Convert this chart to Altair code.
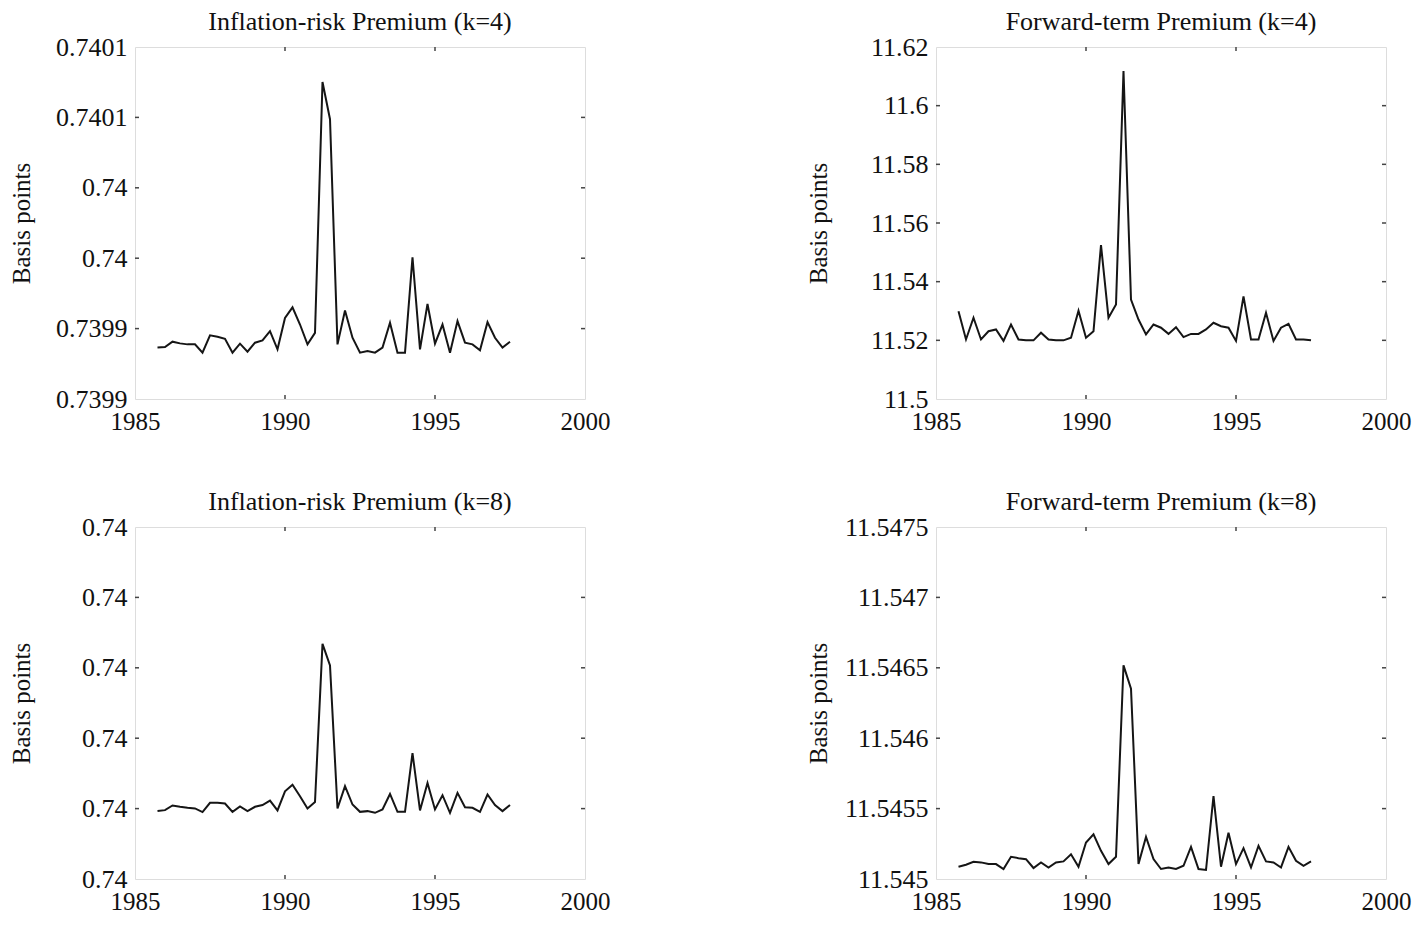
import altair as alt
import pandas as pd

FONT = "Liberation Serif"

years = [1985.75, 1986.0, 1986.25, 1986.5, 1986.75, 1987.0, 1987.25, 1987.5,
         1987.75, 1988.0, 1988.25, 1988.5, 1988.75, 1989.0, 1989.25, 1989.5,
         1989.75, 1990.0, 1990.25, 1990.5, 1990.75, 1991.0, 1991.25, 1991.5,
         1991.75, 1992.0, 1992.25, 1992.5, 1992.75, 1993.0, 1993.25, 1993.5,
         1993.75, 1994.0, 1994.25, 1994.5, 1994.75, 1995.0, 1995.25, 1995.5,
         1995.75, 1996.0, 1996.25, 1996.5, 1996.75, 1997.0, 1997.25, 1997.5]

irp_k4 = [0.7399365, 0.7399369, 0.7399407, 0.7399395, 0.7399388, 0.7399388,
          0.7399329, 0.7399452, 0.7399442, 0.7399428, 0.7399329, 0.7399393,
          0.7399336, 0.7399400, 0.7399416, 0.7399482, 0.7399353, 0.7399576,
          0.7399651, 0.7399529, 0.7399388, 0.7399470, 0.7401251, 0.7400987,
          0.7399388, 0.7399628, 0.7399435, 0.7399329, 0.7399341, 0.7399329,
          0.7399365, 0.7399541, 0.7399329, 0.7399329, 0.7400007, 0.7399353,
          0.7399675, 0.7399393, 0.7399529, 0.7399329, 0.7399553, 0.7399400,
          0.7399388, 0.7399346, 0.7399546, 0.7399435, 0.7399365, 0.7399407]

irp_k8 = [0.73998483, 0.73998489, 0.73998522, 0.73998513, 0.73998506, 0.73998501,
          0.73998475, 0.73998541, 0.73998541, 0.73998536, 0.73998477, 0.73998515,
          0.73998482, 0.73998513, 0.73998525, 0.73998557, 0.73998487, 0.73998623,
          0.73998670, 0.73998588, 0.73998501, 0.73998546, 0.73999670, 0.73999517,
          0.73998501, 0.73998659, 0.73998529, 0.73998477, 0.73998482, 0.73998470,
          0.73998494, 0.73998604, 0.73998477, 0.73998477, 0.73998894, 0.73998487,
          0.73998682, 0.73998494, 0.73998595, 0.73998470, 0.73998612, 0.73998510,
          0.73998506, 0.73998477, 0.73998600, 0.73998525, 0.73998482, 0.73998525]

ftp_k4 = [11.5299, 11.5203, 11.5277, 11.5203, 11.5231, 11.5237, 11.5198, 11.5254,
          11.5203, 11.5200, 11.5200, 11.5226, 11.5203, 11.5200, 11.5200, 11.5209,
          11.5301, 11.5209, 11.5231, 11.5525, 11.5277, 11.5322, 11.6118, 11.5339,
          11.5271, 11.5220, 11.5254, 11.5243, 11.5222, 11.5245, 11.5211, 11.5222,
          11.5222, 11.5237, 11.5260, 11.5248, 11.5243, 11.5198, 11.5350, 11.5203,
          11.5203, 11.5294, 11.5198, 11.5243, 11.5256, 11.5203, 11.5203, 11.5200]

ftp_k8 = [11.545087, 11.545101, 11.545122, 11.545118, 11.545106, 11.545106,
          11.545071, 11.545158, 11.545148, 11.545141, 11.545078, 11.545118,
          11.545082, 11.545118, 11.545125, 11.545176, 11.545087, 11.545259,
          11.545318, 11.545200, 11.545106, 11.545158, 11.546517, 11.546352,
          11.545106, 11.545299, 11.545141, 11.545071, 11.545082, 11.545071,
          11.545094, 11.545228, 11.545071, 11.545064, 11.545588, 11.545087,
          11.545329, 11.545106, 11.545219, 11.545082, 11.545235, 11.545125,
          11.545118, 11.545082, 11.545228, 11.545129, 11.545094, 11.545125]

titles = ["Inflation-risk Premium (k=4)", "Forward-term Premium (k=4)",
          "Inflation-risk Premium (k=8)", "Forward-term Premium (k=8)"]

x_ticks = [1985, 1990, 1995, 2000]

irp4_ticks = [0.7399, 0.73995, 0.74, 0.74005, 0.7401, 0.74015]
irp4_labels = ["0.7399", "0.7399", "0.74", "0.74", "0.7401", "0.7401"]
irp8_ticks = [0.73998, 0.739985, 0.73999, 0.739995, 0.74, 0.740005]
irp8_labels = ["0.74", "0.74", "0.74", "0.74", "0.74", "0.74"]
ftp4_ticks = [11.5, 11.52, 11.54, 11.56, 11.58, 11.6, 11.62]
ftp4_labels = ["11.5", "11.52", "11.54", "11.56", "11.58", "11.6", "11.62"]
ftp8_ticks = [11.545, 11.5455, 11.546, 11.5465, 11.547, 11.5475]
ftp8_labels = ["11.545", "11.5455", "11.546", "11.5465", "11.547", "11.5475"]

W, H = 450, 352
TICK = 4


def label_expr(vals, labs):
    tol = abs(vals[1] - vals[0]) / 100.0
    expr = "''"
    for v, l in reversed(list(zip(vals, labs))):
        expr = f"abs(datum.value - ({v!r})) < {tol!r} ? '{l}' : ({expr})"
    return expr


def panel(values, title, yticks, ylabels, title_x):
    df = pd.DataFrame({"year": years, "value": values})
    xscale = alt.Scale(domain=[x_ticks[0], x_ticks[-1]], nice=False, zero=False)
    yscale = alt.Scale(domain=[yticks[0], yticks[-1]], nice=False, zero=False)
    xaxis = alt.Axis(values=x_ticks, format="d", title=None, domain=False, grid=False,
                     tickSize=0, labelPadding=10, labelFlush=False, labelOverlap=False,
                     labelFont=FONT, labelFontSize=25, labelColor="#111")
    yaxis = alt.Axis(values=yticks, labelExpr=label_expr(yticks, ylabels),
                     title="Basis points", titleFont=FONT, titleFontSize=25,
                     titleFontWeight="normal", titleColor="#111",
                     titleX=title_x, titleY=H / 2, titleAngle=270,
                     titleAlign="center", titleBaseline="middle",
                     domain=False, grid=False, tickSize=0, labelPadding=8,
                     labelFlush=False, labelOverlap=False,
                     labelFont=FONT, labelFontSize=26, labelColor="#111")

    line = alt.Chart(df).mark_line(color="#151515", strokeWidth=2).encode(
        x=alt.X("year:Q", scale=xscale, axis=xaxis),
        y=alt.Y("value:Q", scale=yscale, axis=yaxis),
    )

    ydf = pd.DataFrame({"value": yticks[1:-1]})
    xdf = pd.DataFrame({"year": x_ticks[1:-1]})
    tick_style = dict(color="#444", strokeWidth=1.5)
    yl = alt.Chart(ydf).mark_rule(**tick_style).encode(
        y=alt.Y("value:Q", scale=yscale, axis=yaxis),
        x=alt.value(0), x2=alt.value(TICK))
    yr = alt.Chart(ydf).mark_rule(**tick_style).encode(
        y=alt.Y("value:Q", scale=yscale, axis=yaxis),
        x=alt.value(W - TICK), x2=alt.value(W))
    xb = alt.Chart(xdf).mark_rule(**tick_style).encode(
        x=alt.X("year:Q", scale=xscale, axis=xaxis),
        y=alt.value(H - TICK), y2=alt.value(H))
    xt = alt.Chart(xdf).mark_rule(**tick_style).encode(
        x=alt.X("year:Q", scale=xscale, axis=xaxis),
        y=alt.value(0), y2=alt.value(TICK))

    return alt.layer(yl, yr, xb, xt, line).properties(
        width=W, height=H,
        title=alt.TitleParams(title, font=FONT, fontSize=26, fontWeight="normal",
                              color="#111", anchor="middle", baseline="alphabetic",
                              frame="group", offset=-22),
    )


p1 = panel(irp_k4, titles[0], irp4_ticks, irp4_labels, -114)
p2 = panel(ftp_k4, titles[1], ftp4_ticks, ftp4_labels, -118)
p3 = panel(irp_k8, titles[2], irp8_ticks, irp8_labels, -114)
p4 = panel(ftp_k8, titles[3], ftp8_ticks, ftp8_labels, -118)

chart = alt.concat(
    p1, p2, p3, p4, columns=2,
    spacing=alt.RowColnumber(row=128, column=351), bounds="flush"
).properties(
    padding={"left": 0, "top": 0, "right": 0, "bottom": 0}
).configure_view(
    stroke="#8a8a8a", strokeWidth=2
).configure(background="white")

chart.save("out.html", embed_options={"renderer": "svg", "actions": False})
